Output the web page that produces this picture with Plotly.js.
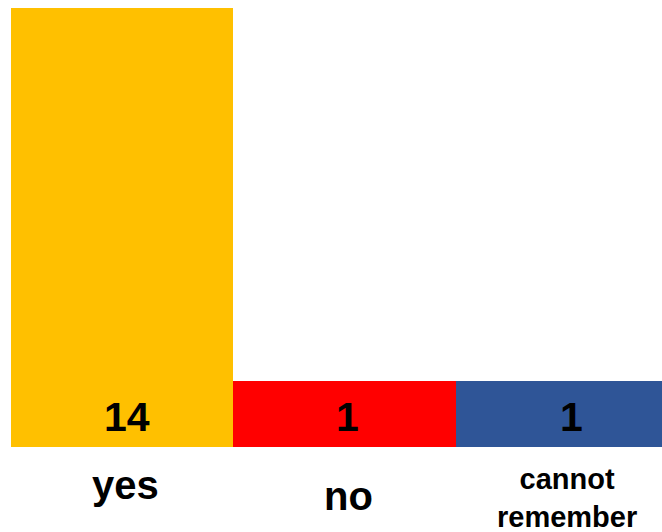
<!DOCTYPE html>
<html>
<head>
<meta charset="utf-8">
<script src="https://cdn.plot.ly/plotly-3.0.1.min.js"></script>
<style>html,body{margin:0;padding:0;background:#fff;}#chart{width:662px;height:532px;}</style>
</head>
<body>
<div id="chart"></div>
<script>
// Data
const categories = ['yes', 'no', 'cannot remember'];
const categoryLabels = ['yes', 'no', 'cannot<br>remember'];
const counts = [14, 1, 1];
const barColors = ['#FFC000', '#FF0000', '#2F5597'];

// Styling
const FONT = '"Liberation Sans", Arial, Helvetica, sans-serif';
const AXIS_FLOOR = -1.3;
const labelSizes = [40, 40, 29];
const labelY = [-0.032, -0.057, -0.032];
const labelShift = [3, 4, 0];
const valueShift = [5, 3, 4];
const VALUE_Y = 0.068;

const trace = {
  type: 'bar',
  x: categories,
  y: counts.map(v => v - AXIS_FLOOR),
  base: AXIS_FLOOR,
  marker: {color: barColors, line: {width: 0}},
  hoverinfo: 'skip'
};

const categoryAnnotations = categories.map((c, i) => ({
  x: c, xref: 'x',
  y: labelY[i], yref: 'paper',
  yanchor: 'top', xanchor: 'center',
  xshift: labelShift[i],
  text: categoryLabels[i],
  showarrow: false,
  font: {family: FONT, size: labelSizes[i], color: '#000000', weight: 700}
}));

const valueAnnotations = categories.map((c, i) => ({
  x: c, xref: 'x',
  y: VALUE_Y, yref: 'paper',
  yanchor: 'middle', xanchor: 'center',
  xshift: valueShift[i],
  text: String(counts[i]),
  showarrow: false,
  font: {family: FONT, size: 41, color: '#000000', weight: 700}
}));

const layout = {
  width: 662, height: 532,
  margin: {l: 11, r: 0, t: 8, b: 85, pad: 0},
  paper_bgcolor: '#ffffff', plot_bgcolor: '#ffffff',
  bargap: 0,
  showlegend: false,
  xaxis: {type: 'category', range: [-0.5, 2.426], showgrid: false, zeroline: false,
          showticklabels: false, showline: false, ticks: ''},
  yaxis: {range: [AXIS_FLOOR, 14], showgrid: false, zeroline: false,
          showticklabels: false, showline: false, ticks: ''},
  annotations: categoryAnnotations.concat(valueAnnotations)
};

Plotly.newPlot('chart', [trace], layout, {displayModeBar: false, staticPlot: true});
</script>
</body>
</html>
